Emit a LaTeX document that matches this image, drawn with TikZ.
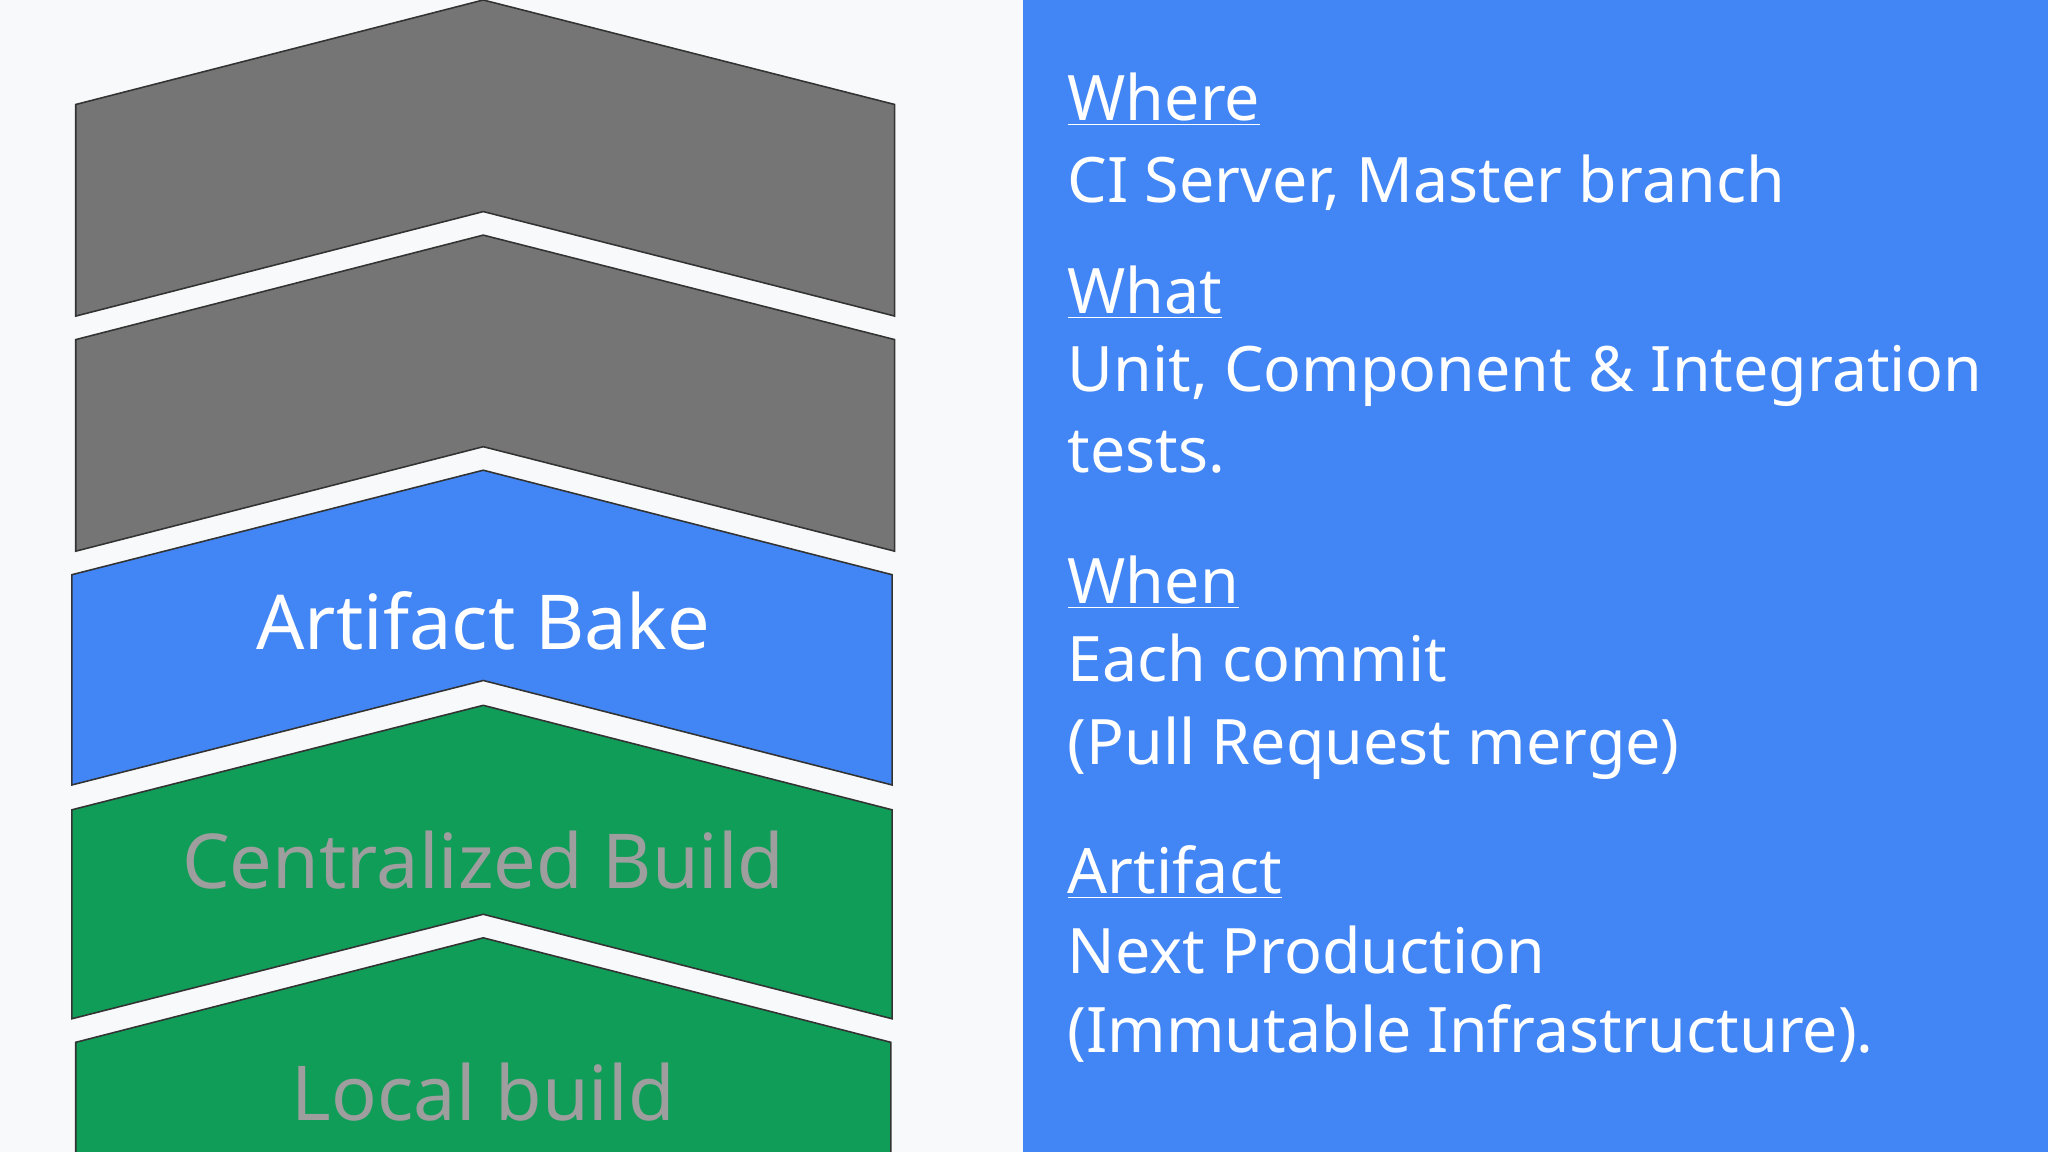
\documentclass[tikz,border=0pt]{standalone}
\usepackage{fontspec}
\setmainfont{Noto Sans}
\definecolor{bgc}{HTML}{F8F9FA}
\definecolor{gblue}{HTML}{4285F4}
\definecolor{ggray}{HTML}{757575}
\definecolor{ggreen}{HTML}{0F9D58}
\definecolor{ltxt}{HTML}{9E9E9E}
\begin{document}
\begin{tikzpicture}[x=0.5pt,y=-0.5pt,
 chev/.style={draw=black!80,line width=0.6pt},
 rt/.style={anchor=base west,inner sep=0pt,text=white,font=\fontsize{24}{28}\selectfont},
 hd/.style={rt,font=\fontsize{24}{28}\selectfont\bfseries},
 lab/.style={anchor=base,inner sep=0pt,font=\fontsize{29}{34}\selectfont}]
\useasboundingbox (0,0) rectangle (1568,882);
\fill[bgc] (0,0) rectangle (1568,882);
\fill[gblue] (783,0) rectangle (1568,882);
\draw[chev,fill=ggray] (58,80) -- (370,0) -- (685,80) -- (685,242) -- (370,162) -- (58,242) -- cycle;
\draw[chev,fill=ggray] (58,260) -- (370,180) -- (685,260) -- (685,422) -- (370,342) -- (58,422) -- cycle;
\draw[chev,fill=gblue] (55,440) -- (370,360) -- (683,440) -- (683,601) -- (370,521) -- (55,601) -- cycle;
\draw[chev,fill=ggreen] (55,620) -- (370,540) -- (683,620) -- (683,780) -- (370,700) -- (55,780) -- cycle;
\draw[chev,fill=ggreen] (58,882) -- (58,798) -- (370,718) -- (682,798) -- (682,882);
\node[lab,text=white] (ab) at (370,497) {Artifact Bake};
\node[lab,text=ltxt] (cb) at (370,680) {Centralized Build};
\node[lab,text=ltxt] (lb) at (370,858) {Local build};
\node[hd] (h1) at (817,92) {\underline{Where}};
\node[rt] (t1) at (817,155) {CI Server, Master branch};
\node[hd] (h2) at (817,240) {\underline{What}};
\node[rt] (t2) at (817,300) {Unit, Component \& Integration};
\node[rt] (t3) at (817,362) {tests.};
\node[hd] (h3) at (817,462) {\underline{When}};
\node[rt] (t4) at (817,522) {Each commit};
\node[rt] (t5) at (817,585) {(Pull Request merge)};
\node[hd] (h4) at (817,684) {\underline{Artifact}};
\node[rt] (t6) at (817,745) {Next Production};
\node[rt] (t7) at (817,806) {(Immutable Infrastructure).};
\end{tikzpicture}
\end{document}
